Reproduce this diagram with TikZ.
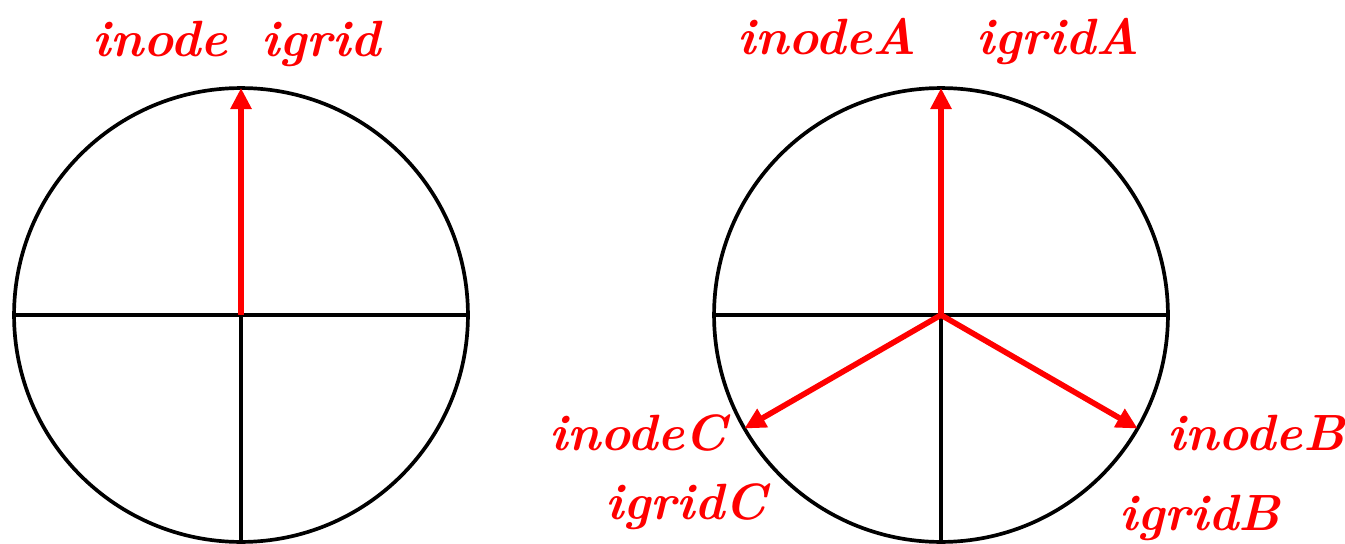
\documentclass[tikz,border=0pt]{standalone}
\usepackage{fontspec}
\usetikzlibrary{arrows.meta}
\tikzset{
  rim/.style={line width=2.1pt},
  vec/.style={red, line width=3.2pt, -{Triangle[length=12pt,width=11.5pt]}},
  lab/.style={red, anchor=base, inner sep=0pt,
    font=\fontsize{29}{31}\selectfont\bfseries\itshape},
}
\begin{document}
\begin{tikzpicture}[x=0.02cm, y=-0.02cm]
        \useasboundingbox (0,0) rectangle (1345,544);
        % two discs with their split lines
        \foreach \cx/\name in {241/L, 941/R} {
            \coordinate (\name) at (\cx,315);
            \draw[rim] (\name) circle[radius=4.54cm];
            \draw[rim] (\cx-227,315) -- (\cx+227,315);
            \draw[rim] (\name) -- (\cx,542);
        }

        \coordinate (Ltop) at (241,88);
        \coordinate (Rtop) at (941,88);
        \coordinate (Rb) at (1137.6,428.5);
        \coordinate (Rc) at (744.4,428.5);

        \draw[vec] (L) -- (Ltop);
        \draw[vec] (R) -- (Rtop);
        \draw[vec] (R) -- (Rb);
        \draw[vec] (R) -- (Rc);

        \node[lab] (inode) at (160,57) {inode};
        \node[lab] (igrid) at (321,57) {igrid};
        \node[lab] (inodeA) at (827,55) {inodeA};
        \node[lab] (igridA) at (1058,55) {igridA};
        \node[lab] (inodeC) at (638,450) {inodeC};
        \node[lab] (igridC) at (686,519) {igridC};
        \node[lab] (inodeB) at (1256,450) {inodeB};
        \node[lab] (igridB) at (1200,530) {igridB};
    \end{tikzpicture}
\end{document}
